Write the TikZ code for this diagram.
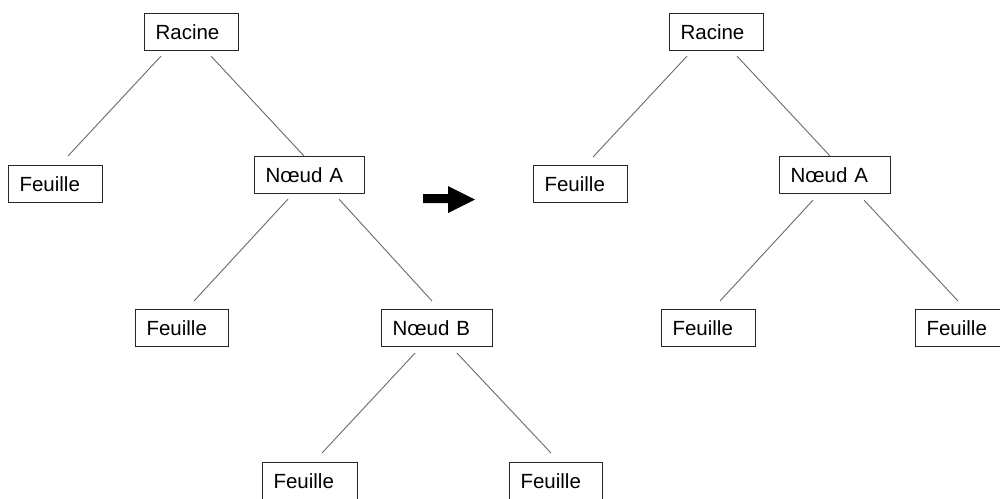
\documentclass[tikz,border=0pt]{standalone}
\usepackage{fontspec}
\setmainfont{Liberation Sans}
\usetikzlibrary{calc}
\begin{document}
\begin{tikzpicture}[x=1pt,y=-1pt,
  box/.style={draw=black!85, line width=1.1pt, anchor=north west,
    inner xsep=11pt, inner ysep=0pt, minimum height=37pt,
    text width=#1, align=left, font=\fontsize{20.5}{24}\selectfont},
  edge/.style={draw={rgb,255:red,105;green,105;blue,105}, line width=0.9pt},
  pointer/.style={fill=black, draw=none}]
\useasboundingbox (0,0) rectangle (1000,498);
% left tree
\node[box=72pt] (r1) at (144,13) {Racine};
\node[box=72pt] (f1) at (8,165) {Feuille};
\node[box=88pt] (a1) at (254,156) {Nœud A};
\node[box=71pt] (f2) at (135,309) {Feuille};
\node[box=89pt] (b1) at (381,309) {Nœud B};
\node[box=73pt] (f3) at (262,462) {Feuille};
\node[box=71pt] (f4) at (509,462) {Feuille};
% right tree
\node[box=72pt] (r2) at (669,13) {Racine};
\node[box=72pt] (f5) at (533,165) {Feuille};
\node[box=89pt] (a2) at (779,156) {Nœud A};
\node[box=72pt] (f6) at (661,309) {Feuille};
\node[box=72pt] (f7) at (915,309) {Feuille};
% connectors left
\draw[edge] ($(r1.south west)+(17,5)$) -- ($(f1.north west)+(60,-9)$);
\draw[edge] ($(r1.south west)+(67,5)$) -- ($(a1.north west)+(50,0)$);
\draw[edge] ($(a1.south west)+(34,5)$) -- ($(f2.north west)+(59,-8)$);
\draw[edge] ($(a1.south west)+(85,5)$) -- ($(b1.north west)+(51,-8)$);
\draw[edge] ($(b1.south west)+(34,6)$) -- ($(f3.north west)+(60,-9)$);
\draw[edge] ($(b1.south west)+(76,6)$) -- ($(f4.north west)+(42,-9)$);
% connectors right
\draw[edge] ($(r2.south west)+(18,5)$) -- ($(f5.north west)+(60,-8)$);
\draw[edge] ($(r2.south west)+(68,5)$) -- ($(a2.north west)+(51,0)$);
\draw[edge] ($(a2.south west)+(34,6)$) -- ($(f6.north west)+(59,-8)$);
\draw[edge] ($(a2.south west)+(85,6)$) -- ($(f7.north west)+(43,-8)$);
% transformation arrow
\path[pointer] (423,194) -- (448,194) -- (448,186) -- (475,199.5) -- (448,213) -- (448,203) -- (423,203) -- cycle;
\end{tikzpicture}
\end{document}
